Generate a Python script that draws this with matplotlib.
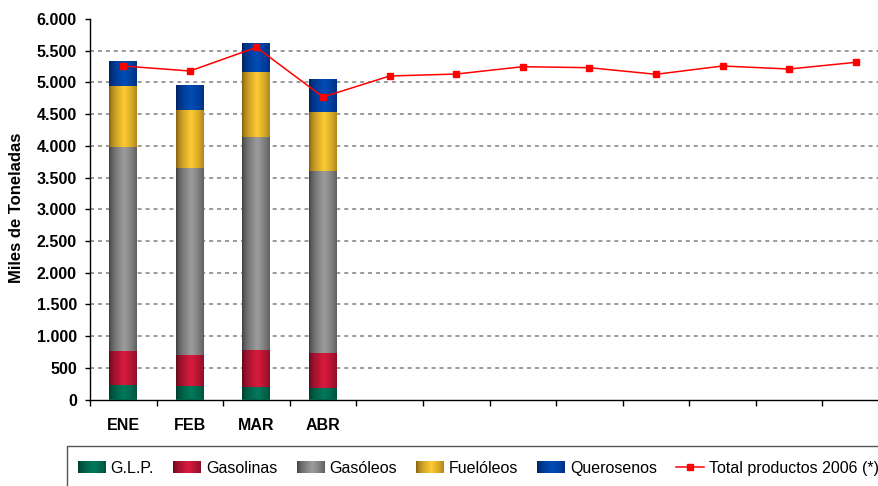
import numpy as np
import matplotlib
matplotlib.use("Agg")
from matplotlib import pyplot as plt
from matplotlib.colors import LinearSegmentedColormap, Normalize
from matplotlib.legend_handler import HandlerBase
from matplotlib.image import BboxImage
from matplotlib.transforms import Bbox, TransformedBbox
from matplotlib.patches import Rectangle
from matplotlib.ticker import FuncFormatter

plt.rcParams['font.family'] = ['Liberation Sans', 'DejaVu Sans']

# datos (miles de toneladas)
meses = ['ENE', 'FEB', 'MAR', 'ABR', '', '', '', '', '', '', '', '']
glp = [224, 213, 192, 181]
gasolinas = [541, 489, 588, 552]
gasoleos = [3216, 2948, 3359, 2870]
fueloleos = [962, 915, 1025, 930]
querosenos = [394, 394, 442, 505]
total_2006 = [5259, 5180, 5553, 4770, 5101, 5132, 5248, 5232, 5128, 5259, 5211, 5317]

series = [('G.L.P.', glp, '#00382a', '#00795a'),
          ('Gasolinas', gasolinas, '#5a0818', '#d81a3e'),
          ('Gasóleos', gasoleos, '#383838', '#9c9c9c'),
          ('Fuelóleos', fueloleos, '#7a5a0e', '#fdca32'),
          ('Querosenos', querosenos, '#001e5c', '#004cb6')]

t = np.linspace(0, 1, 80)
prof = np.clip(1 - np.abs(t - 0.55) / 0.55, 0, 1) ** 0.55


class GradHandler(HandlerBase):
    def __init__(self, cmap):
        super().__init__()
        self.cmap = cmap

    def create_artists(self, legend, orig_handle, xdescent, ydescent, width, height, fontsize, trans):
        bb = TransformedBbox(Bbox.from_bounds(-xdescent, -ydescent, width, height), trans)
        im = BboxImage(bb, cmap=self.cmap, norm=Normalize(0, 1), interpolation='bilinear')
        im.set_data(prof[None, :])
        return [im]


fig = plt.figure(figsize=(8.79, 4.86), dpi=100)
ax = fig.add_axes([90 / 879, (486 - 399.5) / 486, 799 / 879, 380.5 / 486])

x = np.arange(len(meses))
xb = x[:len(glp)]
bottom = np.zeros(len(glp))
handles = []
hmap = {}
for name, vals, dark, light in series:
    cm = LinearSegmentedColormap.from_list(name, [dark, light])
    bars = ax.bar(xb, vals, 0.42, bottom=bottom, color=light, linewidth=0, zorder=2, label=name)
    for p in bars.patches:
        ax.imshow(prof[None, :], cmap=cm, vmin=0, vmax=1, aspect='auto', interpolation='bilinear',
                  extent=(p.get_x(), p.get_x() + p.get_width(), p.get_y(), p.get_y() + p.get_height()),
                  zorder=2.1)
    bottom = bottom + np.array(vals)
    handles.append(bars)
    hmap[bars] = GradHandler(cm)

ln, = ax.plot(x, total_2006, color='#ff0000', lw=1.1, marker='s', markersize=4.8, zorder=3,
              label='Total productos 2006 (*)')
handles.append(ln)

ax.set_xlim(-0.5, 11.5)
ax.set_ylim(0, 6000)
yt = np.arange(0, 6001, 500)
ax.set_yticks(yt)
ax.yaxis.set_major_formatter(FuncFormatter(lambda v, p: '{:,}'.format(int(v)).replace(',', '.')))
ax.set_xticks(x)
ax.set_xticklabels(meses)
ax.set_xticks(np.arange(-0.5, 12, 1), minor=True)
ax.tick_params(axis='x', which='major', length=0, pad=13)
ax.tick_params(axis='x', which='minor', length=4.5, width=1, direction='out')
ax.tick_params(axis='y', length=3.5, width=1, direction='out', pad=6)
for lab in ax.get_xticklabels() + ax.get_yticklabels():
    lab.set_fontweight('bold')
    lab.set_fontsize(11.5)

ax.yaxis.grid(True, color='#808080', linestyle=(0, (2.6, 2.6)), linewidth=1.1, zorder=1)
ax.set_axisbelow(True)
gl = ax.get_ygridlines()
gl[0].set_visible(False)
gl[-1].set_visible(False)

for s in ['top', 'right']:
    ax.spines[s].set_visible(False)
ax.spines['left'].set_linewidth(1)
ax.spines['bottom'].set_linewidth(1)

fig.text(16.5 / 879, (486 - 208) / 486, 'Miles de Toneladas', rotation=90, ha='center', va='center',
         fontsize=12, fontweight='bold')

fig.patches.append(Rectangle((67 / 879, -0.2), 1.0, (486 - 446) / 486 + 0.2, transform=fig.transFigure,
                             fill=False, edgecolor='#555555', linewidth=1))
fig.legend(handles, [h.get_label() for h in handles], handler_map=hmap, loc='center left',
           bbox_to_anchor=(78 / 879, (486 - 468.5) / 486), ncol=6, frameon=False, borderpad=0,
           borderaxespad=0, fontsize=11.5, handlelength=1.75, handleheight=0.7, handletextpad=0.3,
           columnspacing=1.2, numpoints=1)

fig.savefig('out.png', dpi=100)
